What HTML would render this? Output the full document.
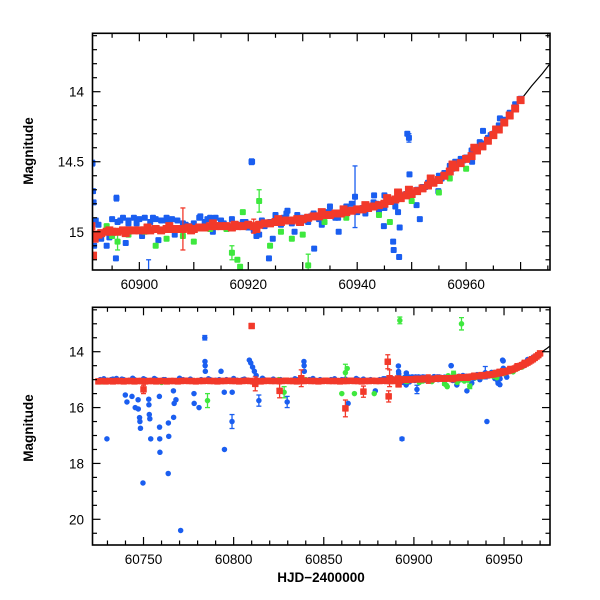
<!DOCTYPE html>
<html><head><meta charset="utf-8">
<style>
html,body{margin:0;padding:0;background:#fff;}
svg{display:block;font-family:"Liberation Sans",sans-serif;}
.tl{font-size:13.5px;fill:#000;}
.ax{font-size:13.5px;font-weight:bold;fill:#000;}
</style></head>
<body>
<svg id="chart" width="600" height="600" viewBox="0 0 600 600">
<defs>
<clipPath id="clipTop"><rect x="92.5" y="33.3" width="457.5" height="236.7"/></clipPath>
<clipPath id="clipBot"><rect x="92.5" y="307.3" width="457.5" height="237.7"/></clipPath>
</defs>
<g id="top"></g>
<g id="bot"></g>
<text class="ax" x="33" y="151" text-anchor="middle" transform="rotate(-90 33 151)">Magnitude</text>
<text class="ax" x="33" y="428" text-anchor="middle" transform="rotate(-90 33 428)">Magnitude</text>
<text class="ax" x="321" y="582" text-anchor="middle">HJD−2400000</text>
</svg>
<script>
// ---- data ----
const redT = [60725,60727,60729,60731,60733,60735,60737,60739,60741,60743,60745,60747,60749,60750,60751,60753,60755,60757,60759,60761,60763,60765,60767,60769,60771,60773,60775,60777,60779,60781,60783,60785,60787,60789,60791,60793,60795,60797,60799,60801,60803,60805,60807,60809,60810,60811,60812,60813,60815,60817,60819,60821,60823,60825,60825.5,60827,60829,60831,60833,60835,60837,60837.5,60839,60841,60843,60845,60847,60849,60851,60853,60855,60857,60859,60861,60862,60863,60865,60867,60869,60871,60872,60873,60875,60877,60879,60881,60883,60885,60885.5,60886,60886.5,60887,60888,60889,60890,
60891,60891.5,60892,60893,60894,60895,60896,60897,60898,60899,60900,60901,60902,60903,60904,60905,60906,60907,60908,60909,60910,60911,60912,60913,60914,60915,60916,60917,60918,60919,60920,60921,60922,60923,60924,60925,60926,60927,60928,60929,60930,60931,60932,60933,60934,60935,60936,60937,60938,60939,60940,60941,60942,60943,60944,60945,60946,60947,60948,60949,60950,60951,60952,60953,60954,60955,60956,60957,60958,60959,60960,60961,60962,60963,60964,60965,60966,60967,60968,60969,60970,
60891.2,60891.8,60892.5,60894.5,60897.5,60901.5,60905.5,60909.5,60913.5,60917.5,60921.5,60925.5,60929.5,60933.5,60937.5,60941.5,60945.5,60947.5,60949.5,60953.5,60957.5,60961.5,60965.5];
const redM = [15.06,15.05,15.06,15.05,15.06,15.05,15.05,15.06,15.05,15.05,15.06,15.05,15.05,15.35,15.06,15.05,15.05,15.06,15.05,15.05,15.06,15.05,15.05,15.06,15.05,15.04,15.05,15.05,15.06,15.05,15.05,15.04,15.05,15.05,15.06,15.05,15.05,15.04,15.05,15.05,15.06,15.05,15.04,15.05,13.08,15.06,15.15,15.05,15.06,15.05,15.04,15.05,15.05,15.05,15.4,15.05,15.04,15.05,15.05,15.06,15.05,14.95,15.05,15.04,15.05,15.05,15.06,15.05,15.04,15.05,15.05,15.05,15.06,15.05,16.03,15.05,15.04,15.05,15.05,15.06,15.43,15.05,15.05,15.04,15.05,15.05,15.04,15.05,14.36,15.6,14.95,15.05,15.0,15.05,15.02,
15.00,15.17,15.02,15.01,15.00,15.00,15.00,14.99,14.99,14.99,14.99,14.99,14.99,14.98,14.99,14.98,14.98,14.98,14.98,14.97,14.98,14.97,14.97,14.96,14.96,14.96,14.96,14.97,14.96,14.96,14.95,14.96,14.95,14.94,14.94,14.93,14.93,14.92,14.92,14.91,14.91,14.90,14.89,14.89,14.88,14.88,14.87,14.87,14.86,14.85,14.84,14.84,14.83,14.82,14.81,14.80,14.78,14.77,14.76,14.74,14.73,14.71,14.69,14.67,14.65,14.63,14.60,14.57,14.54,14.51,14.48,14.46,14.42,14.39,14.35,14.31,14.27,14.22,14.17,14.12,14.06,
14.96,15.05,15.02,14.99,15.01,14.97,14.96,14.99,14.94,14.95,14.98,14.91,14.93,14.86,14.84,14.81,14.76,14.72,14.70,14.62,14.52,14.40,14.27];
const redE = {60750:0.15,60812:0.25,60825.5:0.25,60837.5:0.3,60862:0.3,60872:0.2,60885.5:0.25,60886:0.2,60886.5:0.3,60908:0.15,60921:0.05};

const blueT = [60726,60729.7,60730,60733,60736,60739,60739.9,60740.8,60742,60743.6,60745,60745.4,60747,60747.1,60747.8,60748,60748.3,60749.7,60751,60752.9,60753,60753.2,60753.5,60754,60757,60758.8,60758.9,60759,60759.1,60761,60763.7,60763.8,60764,60766.6,60766.7,60767,60768,60770.6,60772,60775,60778,60778.1,60780.8,60782,60784,60784.1,60784.2,60784.3,60787,60790,60793,60794.8,60794.9,60796,60799.1,60799.2,60802,60805,60808.7,60809.5,60810.5,60811.5,60812.5,60814,60817,60820,60823,60826,60829.7,60832,60835,60839,60839.1,60839.2,60842,60845,60848,60851,60854,60857,60860,60863.5,60866,60869,60872,60875,60878.6,60881,60884,60887,60889,60891.4,60891.5,60891.6,60891.7,60892,60893,60893.4,60894,60895,60895.7,60895.8,60896,60897,60898,60899,60900,60901,60901.7,60902,60903,60904,60905,60906,60907,60908,60909,60910,60911,60911.2,60912,60913,60914,60915,60916,60917,60918,60919,60920,60920.6,60920.7,60921,60922,60923,60923.8,60924,60925,60926,60927,60927.2,60928,60929,60929.4,60930,60931,60932,60932.1,60933,60934,60935,60936,60936.6,60937,60938,60939,60939.6,60940,60940.5,60941,60942,60943,60943.1,60944,60944.9,60945,60946,60946.6,60946.7,60947,60947.7,60947.8,60948,60949,60949.2,60949.5,60949.6,60950,60950.9,60951,60951.5,60952,60953,60954,60954.9,60955,60956,60957,60958,60959,60960,60961,60961.1,60962,60963,60963.1,60964,60965,60966,60966.2,60967,60968,60969,60970,
60892.5,60894.5,60896.5,60897.5,60899.5,60900.5,60902.5,60903.5,60905.5,60906.5,60908.5,60910.5,60912.5,60913.5,60915.5,60917.5,60919.5,60921.5,60922.5,60924.5,60926.5,60928.5,60930.5,60931.5,60933.5,60934.5,60936.5,60937.5,60941.5,60943.5,60945.5,60947.5,60952.5,60955.5,60957.5,60959.5,60962.5,60964.5,
60728,60732,60735,60738,60744,60750,60756,60762,60770,60776,60786,60792,60800,60806,60816,60822,60828,60834,60844,60850,60856,60862,60868,60876,60883,60886,60888,60898,60905,60915,60925,60935,60945];
const blueM = [15.0,17.12,15.02,14.98,15.03,15.0,15.55,15.8,15.02,15.6,15.0,16.0,15.72,16.05,16.36,16.5,16.74,18.7,15.0,15.7,15.9,16.25,16.4,17.12,15.0,15.6,16.7,17.12,17.6,15.0,18.36,16.55,17.03,15.4,16.35,15.85,15.72,20.4,15.0,15.02,15.5,15.85,16.0,15.0,13.5,14.35,14.5,14.7,15.0,15.02,14.7,15.45,17.5,15.0,16.5,15.45,15.02,15.0,14.3,14.4,14.55,14.7,14.85,15.75,15.0,15.02,15.05,15.0,15.8,15.02,15.0,14.35,14.5,14.7,15.0,15.05,15.0,15.02,15.0,15.05,15.0,15.85,15.02,15.0,14.98,15.02,15.4,15.0,14.97,15.02,15.0,14.51,14.71,14.79,15.1,14.92,15.05,17.12,15.1,14.91,15.19,14.76,14.93,14.90,14.92,14.90,14.91,14.90,15.35,14.93,14.91,14.92,14.90,14.91,14.92,14.94,14.96,14.94,14.90,14.89,14.93,14.90,14.90,14.93,14.96,14.91,14.95,14.93,14.97,14.50,14.5,14.99,15.02,14.96,15.19,14.93,14.90,14.95,14.87,14.85,14.94,14.88,15.4,14.90,14.93,14.87,15.12,14.91,14.88,14.86,14.90,15.0,14.87,14.82,14.80,14.75,14.86,16.5,14.83,14.82,14.79,14.74,14.85,14.96,14.83,14.78,15.07,15.13,14.82,15.18,14.97,14.74,14.73,14.3,14.33,14.59,14.72,14.81,14.70,14.91,14.68,14.65,14.64,14.71,14.60,14.58,14.53,14.50,14.48,14.47,14.42,14.5,14.40,14.37,14.28,14.33,14.30,14.24,14.19,14.20,14.15,14.09,14.05,
14.95,15.04,14.92,15.08,14.94,15.03,14.90,15.06,14.92,15.02,14.95,14.97,14.91,15.0,14.94,14.96,14.93,15.03,14.92,15.05,14.90,15.0,14.92,14.89,14.95,14.86,14.90,14.84,14.87,14.80,14.77,14.86,14.68,14.62,14.55,14.49,14.36,14.31,
14.97,15.0,14.96,14.98,14.95,14.97,14.96,15.0,14.95,14.98,14.97,15.0,14.96,14.98,14.95,14.98,15.02,14.97,14.96,15.02,14.97,14.98,14.96,15.0,14.97,15.02,14.96,14.94,14.92,14.92,14.88,14.82,14.74];
const blueE = {60729.7:0,60778:0,60784:0.08,60794.8:0,60799.1:0.25,60814:0.2,60829.7:0.2,60893.4:0.05,60891.4:0.02,60895.8:0.02,60920.6:0.02,60949.5:0.03,60939.6:0.22,60901.7:0.15,60946.6:0.0};

const greenT = [60727,60760,60785.5,60825,60828,60840,60860,60862,60863,60867,60878,60892.2,60894,60895,60896,60898,60901,60903,60905,60908,60910,60913,60916,60917,60918,60918.5,60919,60922,60924,60926,60926.4,60928,60930,60931,60934,60938,60944,60946,60950,60955,60957,60960,60966];
const greenM = [15.08,15.1,15.75,15.0,15.45,15.0,15.5,14.75,14.6,15.5,15.5,12.88,14.96,15.03,15.07,15.02,15.0,15.1,15.05,15.03,15.07,14.98,14.98,15.15,15.2,15.25,14.86,14.78,15.1,15.0,13.0,15.05,15.02,15.24,14.93,14.90,14.88,14.93,14.78,14.72,14.62,14.55,14.27];
const greenE = {60785.5:0.25,60828:0.2,60862:0.3,60892.2:0.12,60926.4:0.22,60922:0.08,60931:0.08,60917:0.05,60896:0.06,60902:0.05};

const modelT = [60725,60800,60880,60891,60900,60910,60920,60930,60940,60945,60950,60955,60960,60963,60966,60968,60970,60972,60974,60975.6];
const modelM = [15.06,15.05,15.02,15.00,14.99,14.98,14.95,14.91,14.84,14.80,14.73,14.63,14.48,14.39,14.27,14.17,14.06,13.96,13.87,13.79];

// ---- axes ----
const panels = [
 {id:'top', clip:'clipTop', x0:92.5, x1:550, y0:33.3, y1:270,
  tmin:60891.4, tmax:60975.4, mmin:13.583, mmax:15.273,
  xMaj:[60900,60920,60940,60960], xMinStep:5, yMaj:[14,14.5,15], yLab:['14','14.5','15'], yMinStep:0.1, ms:6, rs:8, rx:1},
 {id:'bot', clip:'clipBot', x0:92.5, x1:550, y0:307.3, y1:545,
  tmin:60721.7, tmax:60975.5, mmin:12.41, mmax:20.92,
  xMaj:[60750,60800,60850,60900,60950], xMinStep:10, yMaj:[14,16,18,20], yLab:['14','16','18','20'], yMinStep:0.5, ms:5.5, rs:6.5, rx:2.75}
];
const NS='http://www.w3.org/2000/svg';
function mk(tag, attrs, parent){const e=document.createElementNS(NS,tag);for(const k in attrs)e.setAttribute(k,attrs[k]);parent.appendChild(e);return e;}

panels.forEach(p=>{
 const g=document.getElementById(p.id);
 const X=t=>p.x0+(t-p.tmin)/(p.tmax-p.tmin)*(p.x1-p.x0);
 const Y=m=>p.y0+(m-p.mmin)/(p.mmax-p.mmin)*(p.y1-p.y0);
 const data=mk('g',{'clip-path':'url(#'+p.clip+')'},g);
 
 
 let d='';
 modelT.forEach((t,i)=>{d+=(i?'L':'M')+X(t).toFixed(1)+' '+Y(modelM[i]).toFixed(1);});
 const ml=mk('path',{d:d,fill:'none',stroke:'#000','stroke-width':1.2},data);
 
 
 function series(T,M,E,col,name,shape){
  const sg=mk('g',{},data);
  
  
  for(let i=0;i<T.length;i++){
   if(T[i]<p.tmin-1||T[i]>p.tmax+1) continue;
   const x=X(T[i]), y=Y(M[i]);
   const e=E[T[i]];
   if(e){
    const ya=Y(M[i]-e), yb=Y(M[i]+e);
    mk('line',{x1:x,x2:x,y1:ya,y2:yb,stroke:col,'stroke-width':1.3},sg);
    mk('line',{x1:x-2.5,x2:x+2.5,y1:ya,y2:ya,stroke:col,'stroke-width':1.3},sg);
    mk('line',{x1:x-2.5,x2:x+2.5,y1:yb,y2:yb,stroke:col,'stroke-width':1.3},sg);
   }
   const s=(shape==='sq')?p.rs:p.ms;
   const r=mk('rect',{x:x-s/2,y:y-s/2,width:s,height:s,rx:shape==='sq'?0.5:p.rx,fill:col},sg);
   
   
  }
 }
 series(blueT,blueM,blueE,'#1a5ef0','blue','c');
 series(greenT,greenM,greenE,'#3ee83e','green','c');
 series(redT,redM,redE,'#f2392a','red','sq');
 // frame
 const fr=mk('rect',{x:p.x0,y:p.y0,width:p.x1-p.x0,height:p.y1-p.y0,fill:'none',stroke:'#000','stroke-width':1.6},g);
 
 
 const tg=mk('g',{stroke:'#000','stroke-width':1.2},g);
 
 
 for(let t=Math.ceil(p.tmin/p.xMinStep)*p.xMinStep;t<=p.tmax;t+=p.xMinStep){
  const maj=(p.id==='top'&&t%10===0)||(p.id==='bot'&&t%50===0);
  const L=maj?8:4.5, x=X(t);
  mk('line',{x1:x,x2:x,y1:p.y1,y2:p.y1-L},tg);
  mk('line',{x1:x,x2:x,y1:p.y0,y2:p.y0+L},tg);
 }
 const n0=Math.ceil(p.mmin/p.yMinStep-1e-6), n1=Math.floor(p.mmax/p.yMinStep);
 for(let n=n0;n<=n1;n++){
  const m=n*p.yMinStep, y=Y(m);
  const maj=p.id==='top'?(n%5===0):(n%4===0);
  const L=maj?8:4.5;
  mk('line',{x1:p.x0,x2:p.x0+L,y1:y,y2:y},tg);
  mk('line',{x1:p.x1,x2:p.x1-L,y1:y,y2:y},tg);
 }
 p.xMaj.forEach(t=>{
  const tx=mk('text',{x:X(t),y:p.y1+19,'text-anchor':'middle',class:'tl'},g);
  tx.textContent=String(t);
  
  
 });
 p.yMaj.forEach((m,i)=>{
  const tx=mk('text',{x:84,y:Y(m)+5,'text-anchor':'end',class:'tl'},g);
  tx.textContent=p.yLab[i];
  
  
 });
});
</script>
</body></html>
